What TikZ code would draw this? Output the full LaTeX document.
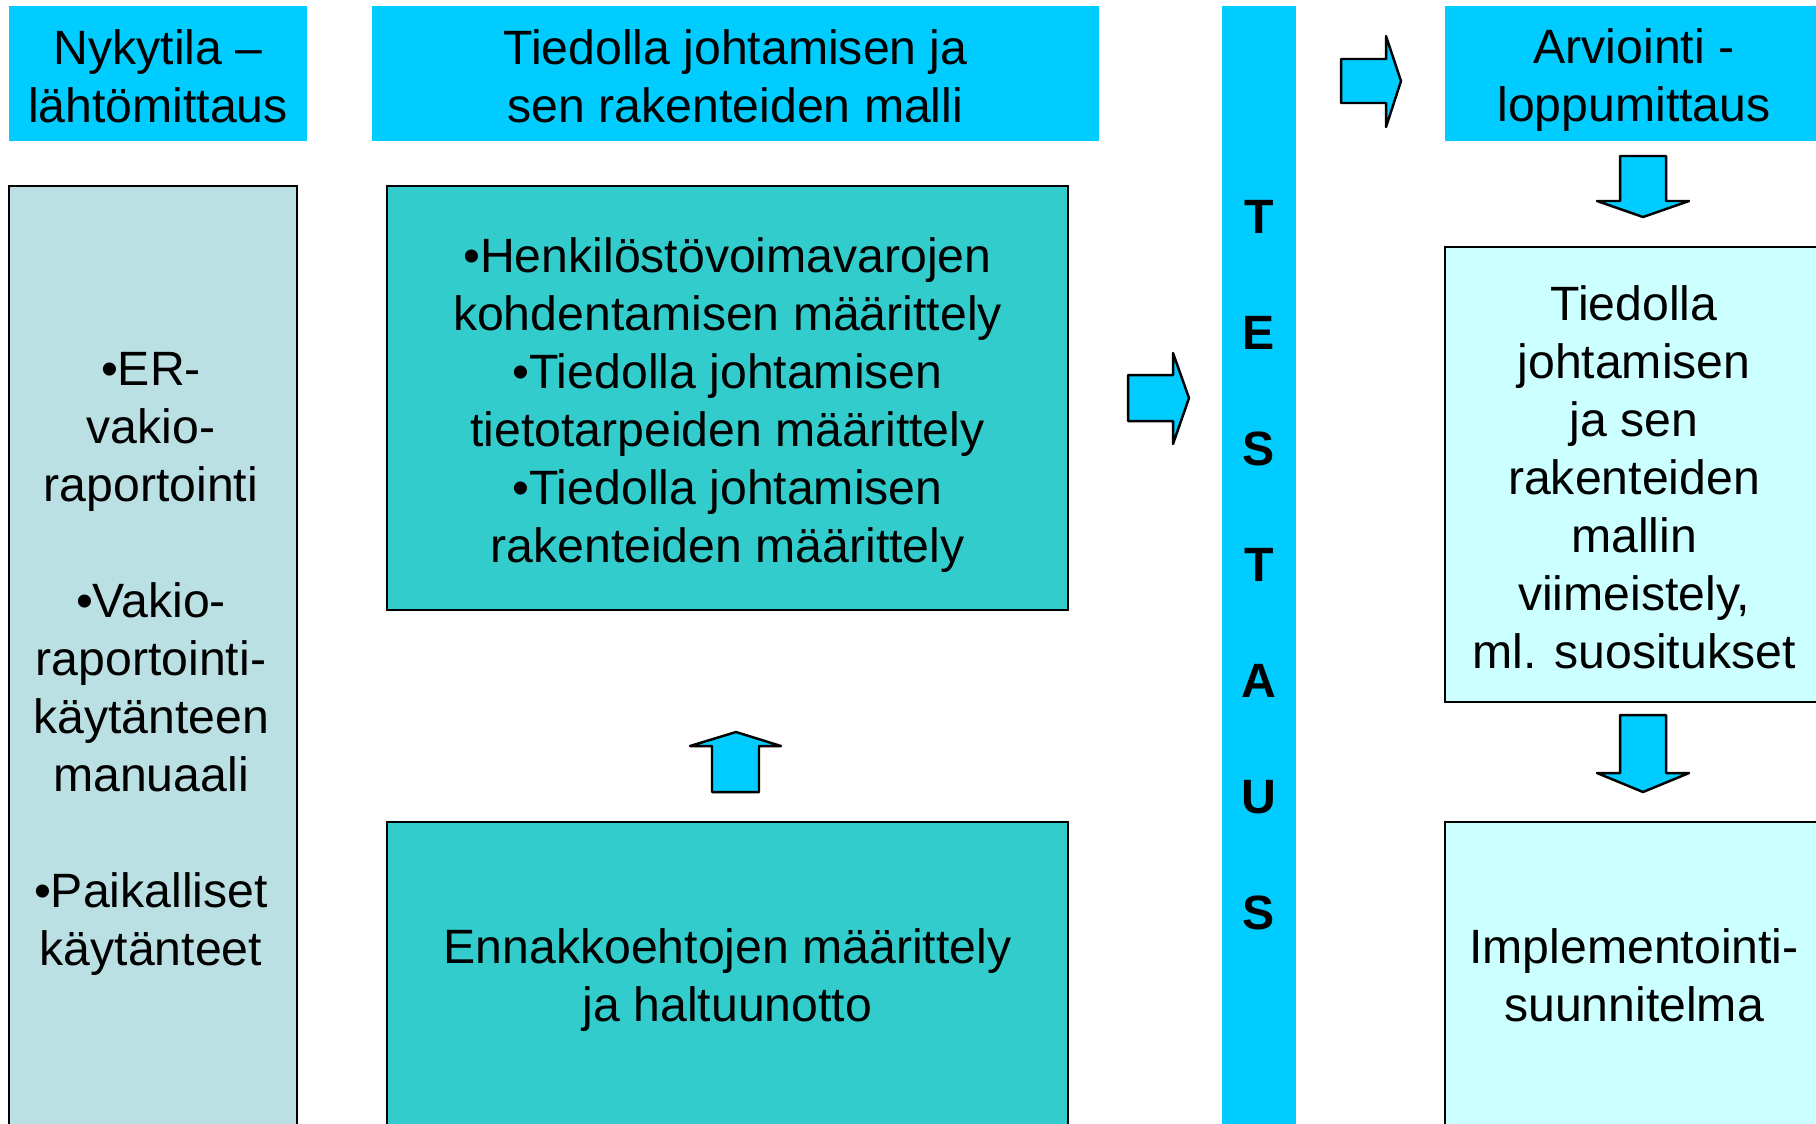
\documentclass[tikz,border=0pt]{standalone}
\usepackage{fontspec}
\setmainfont{Liberation Sans}
\usepackage{tikz}
\definecolor{headcyan}{HTML}{00CCFF}
\definecolor{leftgrey}{HTML}{BBE0E3}
\definecolor{midteal}{HTML}{33CCCC}
\definecolor{rightpale}{HTML}{CCFFFF}

\begin{document}
\begin{tikzpicture}[x=0.01cm,y=-0.01cm,
        txt/.style={font=\fontsize{13.7}{16.5}\selectfont,align=center,inner sep=0pt,outer sep=0pt},
        headbox/.style={fill=headcyan,inner sep=0pt,outer sep=0pt},
        phasebox/.style={draw=black,line width=0.5pt,inner sep=0pt,outer sep=0pt},
        blockarrow/.style={fill=headcyan,draw=black,line width=0.7pt,line join=round}]
                \clip (0,0) rectangle (1816,1123);
                \fill[white] (0,0) rectangle (1816,1123);

                \node[headbox,minimum width=2.98cm,minimum height=1.35cm] (nyky) at (158,73.5) {};
                \node[headbox,minimum width=7.27cm,minimum height=1.35cm] (malli) at (735.5,73.5) {};
                \node[headbox,minimum width=3.78cm,minimum height=1.35cm] (arvio) at (1634,73.5) {};
                \node[headbox,minimum width=0.74cm,minimum height=11.18cm] (testaus) at (1259,565) {};

                \node[phasebox,fill=leftgrey,minimum width=2.88cm,minimum height=9.44cm] (nykyinen) at (153,658) {};
                \node[phasebox,fill=midteal,minimum width=6.81cm,minimum height=4.24cm] (maarittely) at (727.5,398) {};
                \node[phasebox,fill=midteal,minimum width=6.81cm,minimum height=3.06cm] (ennakko) at (727.5,975) {};
                \node[phasebox,fill=rightpale,minimum width=3.78cm,minimum height=4.55cm] (viimeistely) at (1634,474.5) {};
                \node[phasebox,fill=rightpale,minimum width=3.78cm,minimum height=3.06cm] (implement) at (1634,975) {};

                \node[txt] (nykytxt) at (158,76) {Nykytila --\\lähtömittaus};
                \node[txt] (mallitxt) at (735.5,76) {Tiedolla johtamisen ja\\sen rakenteiden malli};
                \node[txt] (arviotxt) at (1634,80) {Arviointi -\\loppumittaus};
                \node[txt,font=\fontsize{13.7}{33}\selectfont\bfseries] (testaustxt) at (1259,565) {T\\E\\S\\T\\A\\U\\S};
                \node[txt] (nykyinentxt) at (151,664)
                    {•ER-\\vakio-\\raportointi\\[16.5pt]•Vakio-\\raportointi-\\käytänteen\\manuaali\\[16.5pt]•Paikalliset\\käytänteet};
                \node[txt] (maarittelytxt) at (727.5,405)
                    {•Henkilöstövoimavarojen\\kohdentamisen määrittely\\•Tiedolla johtamisen\\tietotarpeiden määrittely\\•Tiedolla johtamisen\\rakenteiden määrittely};
                \node[txt] (ennakkotxt) at (727.5,980) {Ennakkoehtojen määrittely\\ja haltuunotto};
                \node[txt] (viimeistelytxt) at (1634,477.5)
                    {Tiedolla\\johtamisen\\ja sen\\rakenteiden\\mallin\\viimeistely,\\ml. suositukset};
                \node[txt] (implementtxt) at (1634,975) {Implementointi-\\suunnitelma};

                \draw[blockarrow] (1341,59) -- (1386,59) -- (1386,36) -- (1401,81) -- (1386,127) -- (1386,103) -- (1341,103) -- cycle;
                \draw[blockarrow] (1128,375) -- (1173,375) -- (1173,353) -- (1189,398) -- (1173,444) -- (1173,421) -- (1128,421) -- cycle;
                \draw[blockarrow] (712,792) -- (712,746) -- (690,746) -- (736,732) -- (781,746) -- (759,746) -- (759,792) -- cycle;
                \draw[blockarrow] (1620,156) -- (1666,156) -- (1666,201) -- (1689,201) -- (1643,217) -- (1597,201) -- (1620,201) -- cycle;
                \draw[blockarrow] (1620,715) -- (1666,715) -- (1666,773) -- (1689,773) -- (1643,792) -- (1597,773) -- (1620,773) -- cycle;
            \end{tikzpicture}
\end{document}
